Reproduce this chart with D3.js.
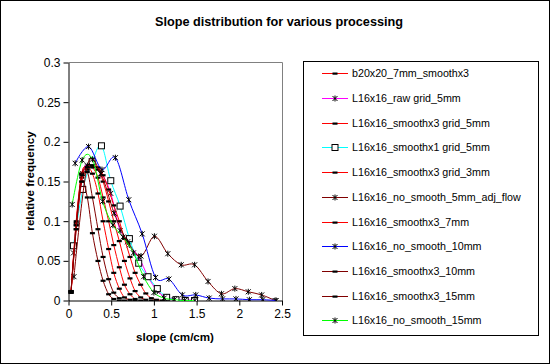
<!DOCTYPE html>
<html><head><meta charset="utf-8">
<script src="https://cdn.jsdelivr.net/npm/d3@7"></script>
<style>
body{margin:0;background:#fff}
svg{display:block}
text{font-family:Arial,"Liberation Sans",sans-serif}
</style>
</head><body>
<svg id="chart" width="550" height="364"></svg>
<script>
// ---------- data ----------
const title = "Slope distribution for various processing";
const xTitle = "slope (cm/cm)";
const yTitle = "relative frequency";
const xTicks = [0, 0.5, 1, 1.5, 2, 2.5];
const yTicks = [0, 0.05, 0.1, 0.15, 0.2, 0.25, 0.3];

const seriesNames = [
  "b20x20_7mm_smoothx3",
  "L16x16_raw grid_5mm",
  "L16x16_smoothx3 grid_5mm",
  "L16x16_smoothx1 grid_5mm",
  "L16x16_smoothx3 grid_3mm",
  "L16x16_no_smooth_5mm_adj_flow",
  "L16x16_smoothx3_7mm",
  "L16x16_no_smooth_10mm",
  "L16x16_smoothx3_10mm",
  "L16x16_smoothx3_15mm",
  "L16x16_no_smooth_15mm"
];
const seriesColors = ["#FF0000","#FF00FF","#FF0000","#00FFFF","#FF0000","#800000","#FF0000","#0000FF","#800000","#800000","#00FF00"];
const seriesMarkers = ["dash","star","dash","square","dash","star","dash","star","dash","dash","star"];

// x positions
const xSmooth = [0.03,0.09,0.155,0.22,0.28,0.345,0.405,0.47,0.53,0.595,0.655,0.72,0.78,0.845,0.905,0.97,1.03,1.095];
const xGrid5 = [0.058,0.167,0.277,0.386,0.495,0.604,0.713,0.822,0.931,1.04,1.149,1.258,1.367,1.476];
const xAdj = [0.064,0.221,0.378,0.535,0.692,0.849,1.006,1.163,1.32,1.477,1.634,1.791,1.948,2.105,2.262,2.419];
const x10 = [0.078,0.235,0.392,0.549,0.706,0.863,1.02,1.176,1.333,1.49,1.647,1.804,1.961,2.118,2.275,2.432];
const x15 = [0.043,0.16,0.28,0.4,0.52,0.64,0.76,0.88,1.0,1.12,1.24,1.36,1.48];

// y values
const yB20 = [0.01,0.098,0.16,0.17,0.168,0.155,0.13,0.1,0.07,0.042,0.02,0.008,0.002,0];
const yRaw5 = [0.06,0.16,0.17,0.16,0.135,0.088,0.07,0.055,0.03,0.012,0.004,0.002,0.001,0];
const ySm3g5 = [0.01,0.095,0.155,0.168,0.172,0.165,0.15,0.125,0.1,0.075,0.05,0.028,0.012,0.004,0.001,0];
const ySm1g5 = [0.069,0.14,0.175,0.195,0.151,0.119,0.078,0.047,0.03,0.015,0.004,0.001,0,0];
const ySm3g3 = [0.01,0.09,0.15,0.165,0.17,0.168,0.158,0.14,0.12,0.1,0.078,0.055,0.035,0.02,0.009,0.003,0.001,0];
const yAdj = [0.03,0.17,0.16,0.11,0.074,0.056,0.081,0.059,0.045,0.045,0.024,0.0085,0.015,0.011,0.007,0];
const ySm3_7 = [0.012,0.1,0.16,0.168,0.16,0.135,0.1,0.065,0.035,0.015,0.004,0.001,0];
const yNo10 = [0.173,0.194,0.165,0.18,0.127,0.084,0.029,0.027,0.007,0.007,0.003,0.002,0.002,0.001,0.001,0];
const ySm3_10 = [0.012,0.095,0.158,0.162,0.13,0.09,0.055,0.027,0.01,0.003,0];
const ySm3_15 = [0.012,0.09,0.15,0.13,0.085,0.05,0.025,0.008,0.002,0];
const yNo15 = [0.121,0.177,0.178,0.125,0.095,0.08,0.06,0.03,0.01,0.003,0.001,0,0];

const seriesX = [xSmooth, xGrid5, xSmooth, xGrid5, xSmooth, xAdj, xSmooth, x10, xSmooth, xSmooth, x15];
const seriesY = [yB20, yRaw5, ySm3g5, ySm1g5, ySm3g3, yAdj, ySm3_7, yNo10, ySm3_10, ySm3_15, yNo15];

// ---------- drawing ----------
const svg = d3.select("#chart");
svg.append("rect").attr("x",0.5).attr("y",0.5).attr("width",549).attr("height",363)
  .attr("fill","#fff").attr("stroke","#000");

const L = 68.5, R = 282, T = 62.5, B = 300.5;
const x = d3.scaleLinear().domain([0,2.5]).range([L,R]);
const y = d3.scaleLinear().domain([0,0.3]).range([B,T]);

// plot frame (grey top/right)
svg.append("line").attr("x1",L).attr("x2",R+0.5).attr("y1",T).attr("y2",T).attr("stroke","#808080");
svg.append("line").attr("x1",R+0.5).attr("x2",R+0.5).attr("y1",T).attr("y2",B).attr("stroke","#808080");

svg.append("defs").append("clipPath").attr("id","plotclip")
  .append("rect").attr("x",L-4).attr("y",T-4).attr("width",R-L+8).attr("height",B-T+4.5);

const yAxis = svg.append("g").attr("transform",`translate(${L},0)`)
  .call(d3.axisLeft(y).tickValues(yTicks).tickSize(5).tickSizeOuter(0).tickPadding(3)
        .tickFormat(d => d === 0 ? "0" : String(+d.toFixed(2))));
const xAxis = svg.append("g").attr("transform",`translate(0,${B})`)
  .call(d3.axisBottom(x).tickValues(xTicks).tickSize(5).tickSizeOuter(0).tickPadding(4)
        .tickFormat(d => String(d)));
[xAxis, yAxis].forEach(g => {
  g.selectAll("text").attr("font-size","12px").attr("fill","#000").attr("font-family","Arial, 'Liberation Sans', sans-serif");
  g.selectAll("line").attr("stroke","#000");
  g.select(".domain").attr("stroke","#000");
});

const plot = svg.append("g").attr("clip-path","url(#plotclip)");

const line = d3.line().curve(d3.curveCatmullRom.alpha(0))
  .x(d => x(d[0])).y(d => y(d[1]));

function drawMarker(g, type, cx, cy) {
  if (type === "dash") {
    g.append("rect").attr("x",cx-2.5).attr("y",cy-1).attr("width",5).attr("height",2.2).attr("fill","#000");
  } else if (type === "star") {
    g.append("path")
      .attr("d",`M${cx-2.5},${cy-2.5}L${cx+2.5},${cy+2.5}M${cx-2.5},${cy+2.5}L${cx+2.5},${cy-2.5}M${cx},${cy-3}L${cx},${cy+3}`)
      .attr("stroke","#000").attr("stroke-width",1).attr("fill","none");
  } else if (type === "square") {
    g.append("rect").attr("x",cx-3).attr("y",cy-3).attr("width",6).attr("height",6)
      .attr("fill","#fff").attr("stroke","#000").attr("stroke-width",1);
  }
}

seriesNames.forEach((name, i) => {
  const pts = seriesX[i].map((xv, j) => [xv, seriesY[i][j]]);
  const g = plot.append("g");
  g.append("path").datum(pts).attr("d", line)
    .attr("fill","none").attr("stroke",seriesColors[i]).attr("stroke-width",1);
  pts.forEach(p => drawMarker(g, seriesMarkers[i], x(p[0]), y(p[1])));
});

// titles
svg.append("text").attr("x",279).attr("y",26).attr("text-anchor","middle")
  .attr("font-size","12.7px").attr("font-weight","bold").text(title);
svg.append("text").attr("x",175).attr("y",341).attr("text-anchor","middle")
  .attr("font-size","11.6px").attr("font-weight","bold").text(xTitle);
svg.append("text").attr("transform","translate(34,181) rotate(-90)").attr("text-anchor","middle")
  .attr("font-size","11.6px").attr("font-weight","bold").text(yTitle);

// legend
const lg = svg.append("g");
lg.append("rect").attr("x",303.5).attr("y",61.5).attr("width",235).attr("height",274)
  .attr("fill","#fff").attr("stroke","#000");
seriesNames.forEach((name, i) => {
  const cy = Math.round(73.3 + i*24.7) + 0.5;
  lg.append("line").attr("x1",322).attr("x2",348).attr("y1",cy).attr("y2",cy)
    .attr("stroke",seriesColors[i]).attr("stroke-width",1);
  drawMarker(lg, seriesMarkers[i], 335, cy);
  lg.append("text").attr("x",352).attr("y",cy).attr("dy","0.35em")
    .attr("font-size","10.7px").attr("fill","#000").text(name);
});
</script>
</body></html>
